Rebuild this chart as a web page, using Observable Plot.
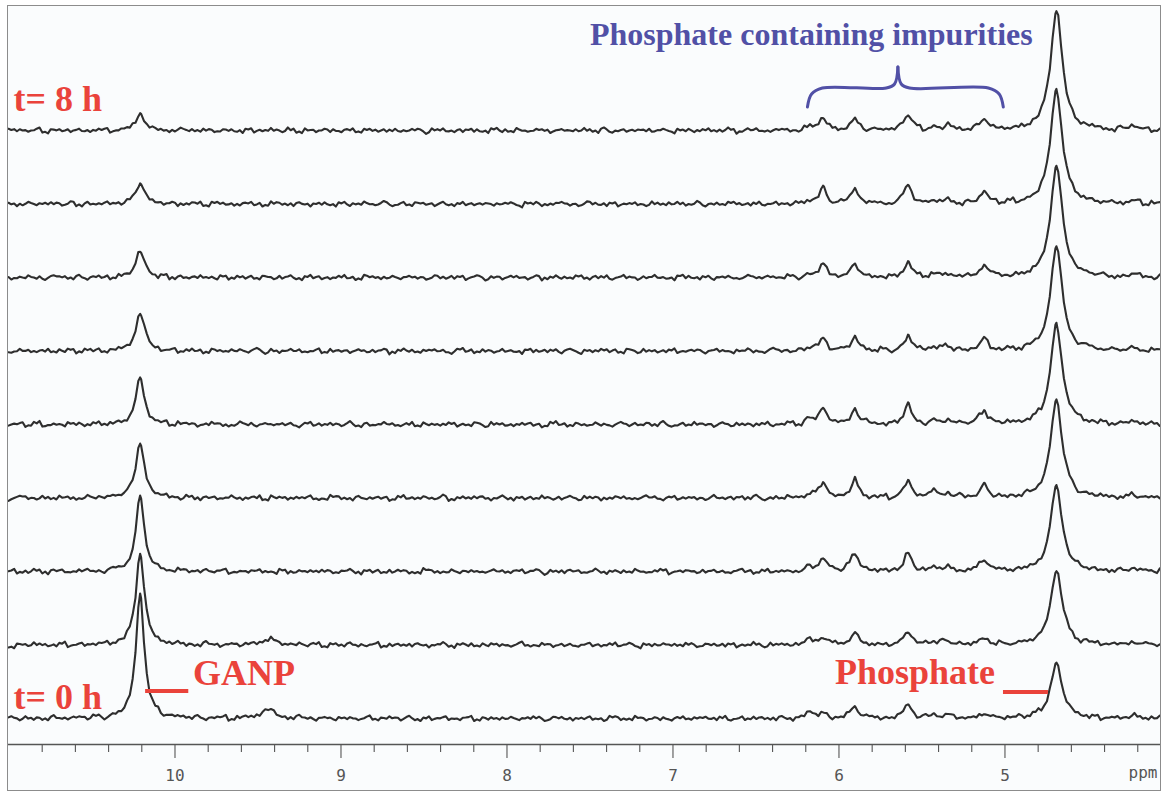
<!DOCTYPE html>
<html><head><meta charset="utf-8">
<script src="https://cdn.jsdelivr.net/npm/d3@7"></script>
<script src="https://cdn.jsdelivr.net/npm/@observablehq/plot@0.6"></script>
<style>
html,body{margin:0;padding:0;background:#ffffff;}
#frame{position:absolute;left:7px;top:5px;width:1152px;height:784px;border:1.5px solid #8c8c8c;background:#fafcfd;overflow:hidden;}
</style></head><body><div id="frame"></div>
<script>
// ---- data ----
const hours = [0, 1, 2, 3, 4, 5, 6, 7, 8];
const ganpPpm = 10.21;
const ganpHeight = [125, 93, 75, 57, 47, 40, 27, 22, 17];
const phosphatePpm = 4.69;
const phosphateHeight = [55, 75, 85, 98, 100, 105, 113, 115, 121];
const impurityPpm = [6.175, 6.096, 5.904, 5.584, 5.43, 5.344, 5.126, 4.22];
const impurityHeight = [
  [7, 6, 4, 3, 5, 3, 3, 3, 3],
  [5, 8, 13, 16, 17, 13, 13, 15, 13],
  [13, 12, 20, 18, 16, 14, 14, 16, 12],
  [15, 14, 18, 17, 20, 15, 15, 19, 17],
  [3, 3, 4, 7, 3, 4, 3, 3, 3],
  [4, 5, 4, 5, 4, 5, 4, 4, 5],
  [5, 7, 13, 12, 15, 12, 13, 12, 12],
  [3, 3, 3, 3, 3, 3, 3, 3, 5]
];
const humpPpm = 9.44;
const humpHeight = [9, 6, 0, 0, 0, 0, 0, 0, 0];
const majorTicks = [10, 9, 8, 7, 6, 5];
const minorTicks = [10.8,10.6,10.4,10.2,9.8,9.6,9.4,9.2,8.8,8.6,8.4,8.2,7.8,7.6,7.4,7.2,6.8,6.6,6.4,6.2,5.8,5.6,5.4,5.2,4.8,4.6,4.4,4.2];
const noiseA = [0,1.5,-0.5,1,-1.5,0.5,2,-1,0,-2,1,0.5,-0.5,1.5,-1,0,2,-1.5,0.5,-0.5,1,-2,0,1.5,-1,0.5,-0.5,2,-1.5,0,1,-1,0.5,1.5,-2,0,-0.5,1,-1,2,-0.5,0,1.5,-1.5,0.5,-1,1,0,-2,1.5,-0.5,0.5,-1,2,0,-1.5,1,-0.5,0.5,-1,1.5];
const noiseB = [1,-1,0.5,0,-1.5,1.5,-0.5,0,1,-1,2,-2,0.5,-0.5,1,0,-1,1.5,-1.5,0.5,0,-0.5,1,-1,0,1.5,-2,1,0.5,-1,0,1,-0.5,-1.5,2,0,-1];
const traceSpacing = 73.5;
const labelRows = [
  {text: "t= 0 h", hour: 0, lift: 21},
  {text: "t= 8 h", hour: 8, lift: 31.5}
];
const ganpLabel = {text: "GANP", ppm: 9.892, y: 45};
const phosphateLabel = {text: "Phosphate", ppm: 5.06, y: 46};
const markerLines = [
  {from: 10.18, to: 9.92, y: 27.5},
  {from: 5.012, to: 4.741, y: 26.5}
];
const impurityTitle = {text: "Phosphate containing impurities", ppm: 7.50, y: 683.5};
const brace = {left: 6.19, right: 5.01, mid: 5.645, y: 630.5, hook: 19, tip: 21};

// ---- build spectra ----
const xDomain = [11.003, 4.063];
const step = 0.017;
const grid = d3.range(xDomain[0], xDomain[1] - 1e-9, -step);
const centers = [ganpPpm, phosphatePpm, ...impurityPpm];
const samples = Array.from(new Set([...grid, ...centers])).sort((a, b) => b - a);
const lor = (x, x0, h, w) => h / (1 + ((x - x0) / w) ** 2);

const rows = [];
for (const k of hours) {
  for (const x of samples) {
    const i = Math.round((xDomain[0] - x) / step);
    let v = lor(x, ganpPpm, ganpHeight[k], 0.03)
          + lor(x, phosphatePpm, phosphateHeight[k], 0.042)
          + lor(x, humpPpm, humpHeight[k], 0.05);
    impurityPpm.forEach((p, j) => { v += lor(x, p, impurityHeight[j][k], 0.026); });
    v += noiseA[(i + 7 * k) % noiseA.length] * 0.8 + noiseB[(Math.floor(i / 3) + 11 * k) % noiseB.length] * 0.9;
    rows.push({ppm: x, y: k * traceSpacing + v, hour: k});
  }
}

const braceLeftPts = [
  [brace.left, brace.y - brace.hook],
  [brace.left - 0.025, brace.y - 6],
  [brace.left - 0.09, brace.y],
  [brace.mid + 0.07, brace.y],
  [brace.mid + 0.02, brace.y + 4],
  [brace.mid, brace.y + brace.tip]
].map(([ppm, y]) => ({ppm, y, side: "L"}));
const braceRightPts = [
  [brace.mid, brace.y + brace.tip],
  [brace.mid - 0.02, brace.y + 4],
  [brace.mid - 0.07, brace.y],
  [brace.right + 0.09, brace.y],
  [brace.right + 0.025, brace.y - 6],
  [brace.right, brace.y - brace.hook]
].map(([ppm, y]) => ({ppm, y, side: "R"}));

const red = "#ea433b";
const blue = "#5150a6";
const yMin = -26;
const serif = "Liberation Serif";

const chart = Plot.plot({
  width: 1152,
  height: 784,
  marginLeft: 0, marginRight: 0, marginTop: 0, marginBottom: 46,
  style: {background: "transparent", overflow: "visible"},
  x: {domain: xDomain, axis: null},
  y: {domain: [yMin, 712], axis: null},
  marks: [
    Plot.ruleY([yMin], {stroke: "#555", strokeWidth: 1.3}),
    Plot.axisX(minorTicks, {tickSize: 8, tickFormat: () => "", stroke: "#555", strokeWidth: 1.1}),
    Plot.axisX(majorTicks, {tickSize: 14, tickPadding: 11, stroke: "#555", strokeWidth: 1.1, color: "#555", fontSize: 16, fontFamily: "DejaVu Sans Mono", tickFormat: d => String(d)}),
    Plot.text(["ppm"], {frameAnchor: "bottom-right", dy: 33, dx: -3, textAnchor: "end", fill: "#555", fontSize: 16, fontFamily: "DejaVu Sans Mono"}),
    Plot.line(rows, {x: "ppm", y: "y", z: "hour", stroke: "#2e2e2e", strokeWidth: 2.1, strokeLinejoin: "round"}),
    Plot.link(markerLines, {x1: "from", x2: "to", y1: "y", y2: "y", stroke: red, strokeWidth: 4}),
    Plot.text(labelRows, {x: () => xDomain[0], y: d => d.hour * traceSpacing + d.lift, text: "text", dx: 5, textAnchor: "start", fill: red, fontSize: 36, fontWeight: "bold", fontFamily: serif}),
    Plot.text([ganpLabel], {x: "ppm", y: "y", text: "text", textAnchor: "start", fill: red, fontSize: 36, fontWeight: "bold", fontFamily: serif}),
    Plot.text([phosphateLabel], {x: "ppm", y: "y", text: "text", textAnchor: "end", fill: red, fontSize: 36, fontWeight: "bold", fontFamily: serif}),
    Plot.text([impurityTitle], {x: "ppm", y: "y", text: "text", textAnchor: "start", fill: blue, fontSize: 32, fontWeight: "bold", fontFamily: serif}),
    Plot.line([...braceLeftPts, ...braceRightPts], {x: "ppm", y: "y", z: "side", stroke: blue, strokeWidth: 3, curve: "catmull-rom", strokeLinecap: "round"})
  ]
});
document.getElementById("frame").appendChild(chart);
</script>
</body></html>
